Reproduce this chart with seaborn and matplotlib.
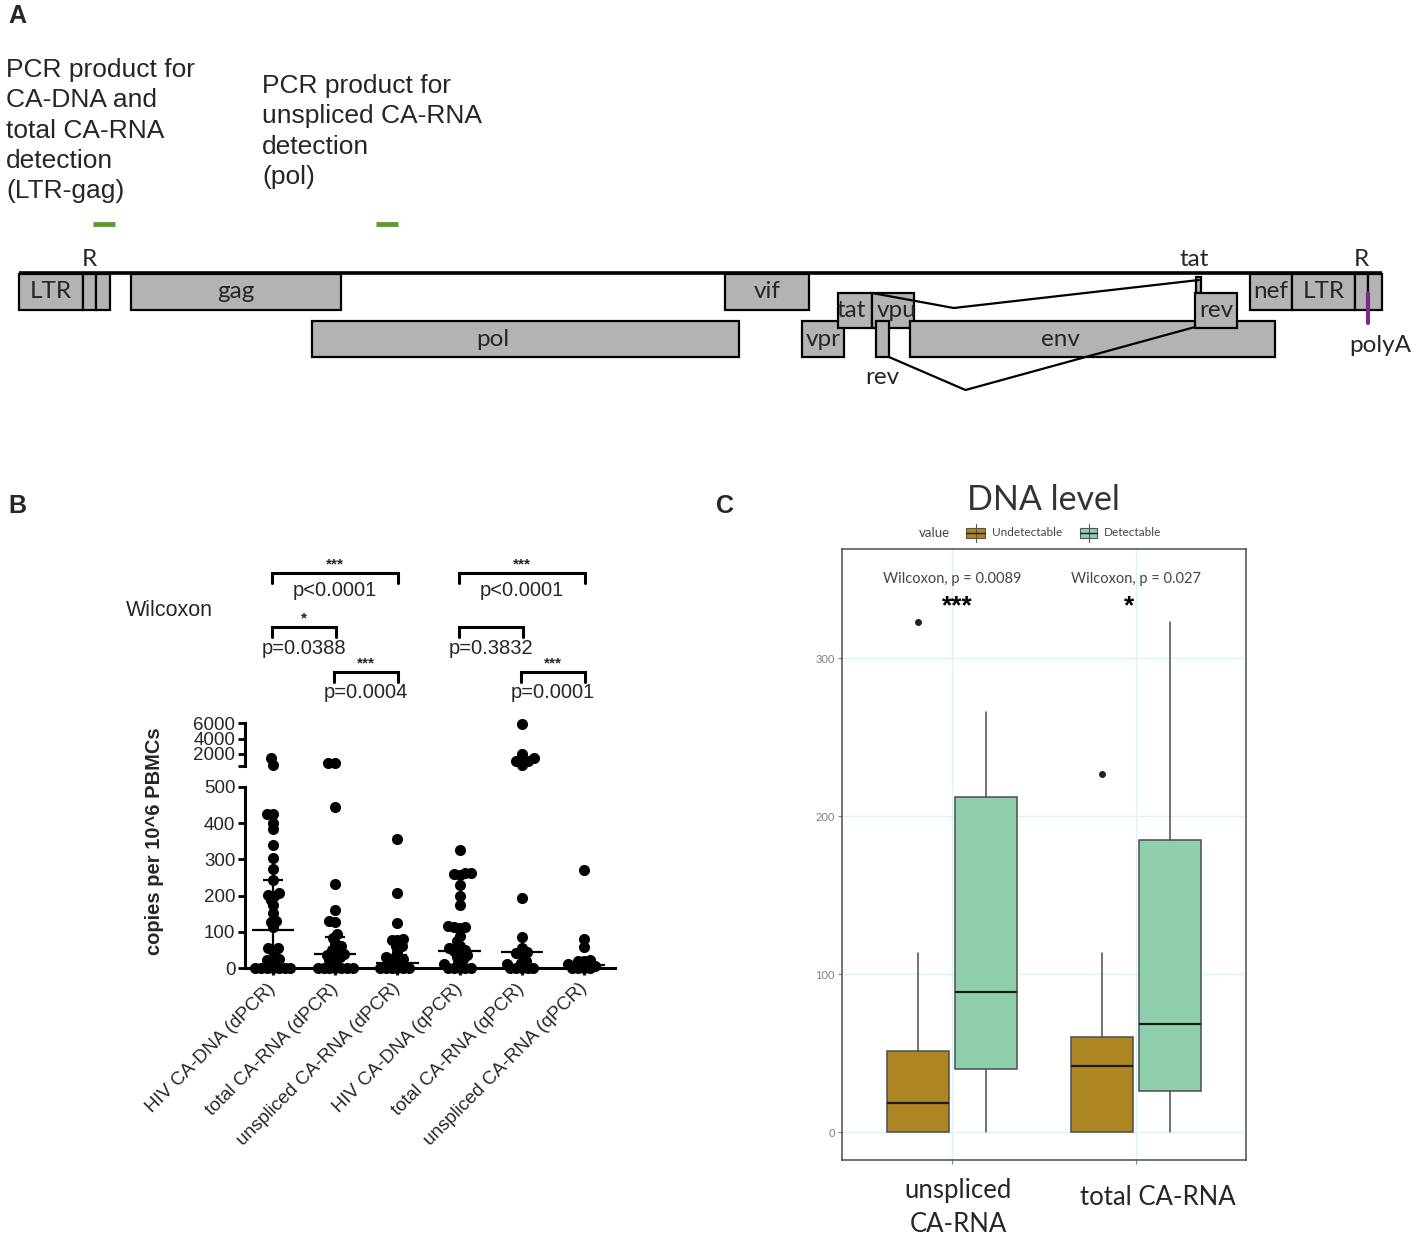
import numpy as np
import pandas as pd
import matplotlib
matplotlib.use('Agg')
import matplotlib.pyplot as plt
from matplotlib.patches import Rectangle
from matplotlib.transforms import ScaledTranslation
import seaborn as sns
import warnings
warnings.filterwarnings('ignore')

W, H = 1417, 1239

# ================= A: genome map (nt positions) =================
seg_name = ['U3', 'R', 'U5', 'gag', 'pol', 'vif', 'vpr', 'tat', 'vpu', 'rev', 'env',
            'tat', 'rev', 'nef', 'U3', 'R', 'U5']
seg_text = ['LTR', '', '', 'gag', 'pol', 'vif', 'vpr', 'tat', 'vpu', '', 'env',
            '', 'rev', 'nef', 'LTR', '', '']
seg_frame = [1, 1, 1, 1, 3, 1, 3, 2, 2, 3, 3, 0, 2, 1, 1, 1, 1]
seg_start = [0, 457, 549, 799, 2091, 5038, 5587, 5844, 6087, 6116, 6358,
             8399, 8392, 8784, 9084, 9534, 9626]
seg_end = [457, 549, 649, 2298, 5138, 5637, 5887, 6087, 6387, 6208, 8963,
           8435, 8692, 9084, 9534, 9626, 9726]
splice_donor = [6087, 6208]
splice_acceptor = [8420, 8392]
primer_start = [528, 2548]
primer_end = [685, 2705]
polya_site = 9626
genome_len = 9726
pcr_labels = ['PCR product for\nCA-DNA and\ntotal CA-RNA\ndetection\n(LTR-gag)',
              'PCR product for\nunspliced CA-RNA\ndetection\n(pol)']

# ================= B: copies per 10^6 PBMCs =================
cats_b = ['HIV CA-DNA (dPCR)', 'total CA-RNA (dPCR)', 'unspliced CA-RNA (dPCR)',
          'HIV CA-DNA (qPCR)', 'total CA-RNA (qPCR)', 'unspliced CA-RNA (qPCR)']
dna_dpcr = [1440, 565, 425, 425, 400, 384, 340, 305, 273, 243, 206, 201, 200, 187, 173,
            151, 130, 126, 112, 56, 56, 47, 25, 23, 20, 0, 0, 0, 0, 0, 0, 0]
total_dpcr = [870, 870, 445, 233, 161, 130, 128, 95, 84, 70, 60, 49, 47, 40, 37, 35, 30,
              23, 20, 0, 0, 0, 0, 0, 0, 0]
unspl_dpcr = [355, 207, 123, 79, 78, 78, 62, 60, 45, 30, 25, 25, 20, 0, 0, 0, 0, 0, 0]
dna_qpcr = [325, 262, 262, 260, 258, 229, 198, 173, 115, 113, 112, 110, 88, 75, 62, 55,
            50, 48, 45, 35, 30, 25, 15, 10, 0, 0, 0, 0, 0]
total_qpcr = [5900, 2050, 1500, 1100, 1050, 550, 193, 86, 56, 45, 42, 40, 20, 15, 12,
              0, 0, 0, 0, 0]
unspl_qpcr = [272, 81, 58, 22, 20, 18, 10, 5, 0, 0, 0, 0]
med_b = [106, 40, 15, 48, 45, 8]
q1_b = [0, 0, 0, 0, 0, 0]
q3_b = [243, 85, 35, 112, 48, 20]
pairs_b = [(0, 2), (0, 1), (1, 2), (3, 5), (3, 4), (4, 5)]
level_b = [0, 1, 2, 0, 1, 2]
ptext_b = ['p<0.0001', 'p=0.0388', 'p=0.0004', 'p<0.0001', 'p=0.3832', 'p=0.0001']
stars_b = ['***', '*', '***', '***', '', '***']

# ================= C: DNA level boxplots =================
cats_c = ['unspliced\nCA-RNA', 'total CA-RNA']
groups_c = ['Undetectable', 'Detectable']
box_cat = [0, 0, 1, 1]
box_grp = ['Undetectable', 'Detectable', 'Undetectable', 'Detectable']
box_q1 = [0, 39.7, 0, 25.7]
box_med = [18.2, 88.5, 41.8, 68.4]
box_q3 = [51, 212, 60, 184.6]
box_lo = [0, 0, 0, 0]
box_hi = [113, 265.7, 113, 323]
box_fliers = [[323], [], [226.4], []]
wilc_c = ['Wilcoxon, p = 0.0089', 'Wilcoxon, p = 0.027']
stars_c = ['***', '*']

COL_UND = '#ad8523'
COL_DET = '#8fcfab'

sns.set_style('white')
plt.rcParams['font.family'] = ['Liberation Sans', 'DejaVu Sans']

fig = plt.figure(figsize=(W / 100, H / 100), dpi=100)
fig.patch.set_facecolor('white')


def rect(l, t, r, b):
    return [l / W, 1 - b / H, (r - l) / W, (b - t) / H]


# -------------------- A --------------------
axA = fig.add_axes(rect(0, 0, W, 420))
axA.set_xlim(-19 * 7.136, (W - 19) * 7.136)
axA.set_ylim(420, 0)
axA.axis('off')

frame_y = {0: (277, 16), 1: (274, 36), 2: (293, 35), 3: (321, 36)}
label_shift = {'pol': -230, 'env': -230, 'tat': -25, 'vpu': 25}
tops = [frame_y[f][0] for f in seg_frame]
hts = [frame_y[f][1] for f in seg_frame]
axA.plot([0, genome_len], [273, 273], color='black', lw=2.6, solid_capstyle='butt', zorder=1)
axA.bar(seg_start, hts, width=np.subtract(seg_end, seg_start), bottom=tops, align='edge',
        color='#b3b3b3', edgecolor='black', linewidth=1.6, zorder=2)
for s, e, t, top, h in zip(seg_start, seg_end, seg_text, tops, hts):
    if t:
        axA.text((s + e) / 2 + label_shift.get(t, 0), top + h / 2, t, ha='center', va='center',
                 fontsize=17.5, family='Lato', zorder=3)

apex_y = [308, 390]
don_y = [293, 357]
acc_y = [280, 327]
for d, a, yd, yp, ya in zip(splice_donor, splice_acceptor, don_y, apex_y, acc_y):
    axA.plot([d, d + 0.25 * (a - d), a], [yd, yp, ya], color='black', lw=1.6, zorder=4)

for s, e in zip(primer_start, primer_end):
    axA.plot([s, e], [224, 224], color='#5b9b2e', lw=3.5, solid_capstyle='butt')
axA.plot([polya_site, polya_site], [293, 323], color='#7b2a8a', lw=3)

axA.text((seg_start[1] + seg_end[1]) / 2, 259, 'R', ha='center', va='center', fontsize=17.5, family='Lato')
axA.text((seg_start[15] + seg_end[15]) / 2, 259, 'R', ha='center', va='center', fontsize=17.5, family='Lato')
axA.text((seg_start[11] + seg_end[11]) / 2 - 30, 259, 'tat', ha='center', va='center', fontsize=17.5, family='Lato')
axA.text((seg_start[9] + seg_end[9]) / 2, 378, 'rev', ha='center', va='center', fontsize=17.5, family='Lato')
axA.text(polya_site + 90, 345, 'polyA', ha='center', va='center', fontsize=17.5, family='Lato')

# -------------------- B --------------------
series_b = [dna_dpcr, total_dpcr, unspl_dpcr, dna_qpcr, total_qpcr, unspl_qpcr]
df_b = pd.DataFrame({'assay': np.repeat(cats_b, [len(v) for v in series_b]),
                     'copies': np.concatenate(series_b)})
df_lo = df_b[df_b['copies'] < 500]
df_hi = df_b[df_b['copies'] >= 500]

ax_hi = fig.add_axes(rect(245, 712, 615, 772))
ax_lo = fig.add_axes(rect(245, 780, 615, 975))

# swarm is laid out with a smaller dot, then drawn with the bigger one (overlap like GraphPad)
sns.swarmplot(data=df_lo, x='assay', y='copies', order=cats_b, color='black', size=4.0, ax=ax_lo)
sns.swarmplot(data=df_hi, x='assay', y='copies', order=cats_b, color='black', size=5.0, ax=ax_hi)
for a in (ax_lo, ax_hi):
    a.set_xlim(-0.45, 5.498)
    a.set_xlabel('')
    a.set_ylabel('')
    a.patch.set_alpha(0)
    for c in a.collections:
        c.set_clip_on(False)

xb = np.arange(len(cats_b))
med = np.array(med_b)
ax_lo.errorbar(xb, med, yerr=[med - np.array(q1_b), np.array(q3_b) - med], fmt='none',
               ecolor='black', elinewidth=1.6, capsize=7, capthick=1.6, clip_on=False)
ax_lo.errorbar(xb, med, xerr=0.34, fmt='none', ecolor='black', elinewidth=1.6, capsize=0, clip_on=False)

ax_lo.set_ylim(-19.3, 519.3)
ax_lo.set_yticks([0, 100, 200, 300, 400, 500])
sns.despine(ax=ax_lo)
ax_lo.spines['left'].set_bounds(0, 500)
ax_lo.spines['bottom'].set_position(('data', 0))
for sp in ('left', 'bottom'):
    ax_lo.spines[sp].set_linewidth(2.2)
    ax_lo.spines[sp].set_color('black')
ax_lo.tick_params(axis='both', direction='out', length=5, width=2, color='black',
                  labelsize=13.5, pad=2, bottom=True, left=True)
ax_lo.tick_params(axis='x', pad=8)
ax_lo.set_xticks(xb)
ax_lo.set_xticklabels(cats_b, rotation=45, ha='right', va='center', rotation_mode='anchor', fontsize=13.5)

ax_hi.set_ylim(-347, 7476)
ax_hi.set_yticks([500, 2000, 4000, 6000])
ax_hi.set_yticklabels(['', '2000', '4000', '6000'])
sns.despine(ax=ax_hi, bottom=True)
ax_hi.spines['left'].set_bounds(500, 6000)
ax_hi.spines['left'].set_linewidth(2.2)
ax_hi.spines['left'].set_color('black')
ax_hi.tick_params(axis='y', direction='out', length=5, width=2, color='black',
                  labelsize=13.5, pad=2, left=True)
ax_hi.set_xticks([])

# -------------------- C --------------------
axC = fig.add_axes(rect(842, 549, 1246, 1160))
stats = []
for q1, m, q3, lo, hi, fl in zip(box_q1, box_med, box_q3, box_lo, box_hi, box_fliers):
    stats.append(dict(q1=q1, med=m, q3=q3, whislo=lo, whishi=hi, fliers=fl))
dodge = {'Undetectable': -0.185, 'Detectable': 0.185}
pos = [c + dodge[g] for c, g in zip(box_cat, box_grp)]
pal = {'Undetectable': COL_UND, 'Detectable': COL_DET}
bp = axC.bxp(stats, positions=pos, widths=0.339, patch_artist=True, showcaps=False,
             boxprops=dict(edgecolor='#4d4d4d', linewidth=1.1),
             medianprops=dict(color='#1a1a1a', linewidth=1.6),
             whiskerprops=dict(color='#4d4d4d', linewidth=1.1),
             flierprops=dict(marker='o', markersize=4, markerfacecolor='#222222',
                             markeredgecolor='#222222'))
for patch, g in zip(bp['boxes'], box_grp):
    patch.set_facecolor(pal[g])

axC.set_xlim(-0.598, 1.598)
axC.set_ylim(-17.7, 369)
axC.set_yticks([0, 100, 200, 300])
axC.set_xticks([0, 1])
axC.set_xticklabels(cats_c)
axC.grid(True, color='#d4f6fa', lw=1.0)
axC.set_axisbelow(True)
for sp in axC.spines.values():
    sp.set_visible(True)
    sp.set_color('#4d4d4d')
    sp.set_linewidth(1.1)
axC.tick_params(axis='y', labelsize=8, labelcolor='#808080', color='#808080', length=3, width=0.8,
                pad=2, left=True)
axC.tick_params(axis='x', labelsize=18.5, color='#808080', length=3, width=0.8, pad=10, bottom=True)
for lbl in axC.get_yticklabels():
    lbl.set_fontfamily('Lato')
for lbl, (dx, dy) in zip(axC.get_xticklabels(), [(6, 0), (22, -7)]):
    lbl.set_fontfamily('Lato')
    lbl.set_linespacing(1.45)
    lbl.set_transform(lbl.get_transform() + ScaledTranslation(dx / 100, dy / 100, fig.dpi_scale_trans))
for i, (t, s) in enumerate(zip(wilc_c, stars_c)):
    axC.text(i, 350, t, ha='center', va='center', fontsize=10.5, color='#444444', family='Lato')
    axC.text(i + (0.03 if i == 0 else -0.04), 333, s, ha='center', va='center', fontsize=19,
             fontweight='bold', color='black')

# -------------------- overlay (text, brackets, legend) --------------------
ov = fig.add_axes([0, 0, 1, 1])
ov.set_xlim(0, W)
ov.set_ylim(H, 0)
ov.axis('off')
ov.patch.set_alpha(0)

ov.text(8, 16, 'A', fontsize=18, fontweight='bold', ha='left', va='center')
ov.text(8, 506, 'B', fontsize=18, fontweight='bold', ha='left', va='center')
ov.text(716, 506, 'C', fontsize=18, fontweight='bold', ha='left', va='center')

ov.text(6, 58, pcr_labels[0], fontsize=19, ha='left', va='top', linespacing=1.33)
ov.text(262, 74, pcr_labels[1], fontsize=19, ha='left', va='top', linespacing=1.33)

ov.text(126, 611, 'Wilcoxon', fontsize=15.5, ha='left', va='center')
ov.text(155, 841, 'copies per 10^6 PBMCs', fontsize=14.5, fontweight='bold',
        rotation=90, ha='center', va='center')

cat_x = [ax_lo.transData.transform((i, 0))[0] for i in range(len(cats_b))]
lvl_y = [573, 627, 672]
ptxt_dy = [17, 22, 20]
for (a, b), lv, pt, st in zip(pairs_b, level_b, ptext_b, stars_b):
    x1, x2 = cat_x[a] - 1, cat_x[b] + 1
    y = lvl_y[lv]
    ov.plot([x1, x1, x2, x2], [y + 10, y, y, y + 10], color='black', lw=2.2,
            solid_joinstyle='miter')
    ov.text((x1 + x2) / 2, y + ptxt_dy[lv], pt, fontsize=14.5, ha='center', va='center')
    if st:
        ov.text((x1 + x2) / 2, y - 9, st, fontsize=11, fontweight='bold', ha='center', va='center')

ov.text(1043, 500, 'DNA level', fontsize=24.5, family='Lato', color='#333333', ha='center', va='center')
ov.text(919, 533, 'value', fontsize=9.5, family='Lato', color='#444444', ha='left', va='center')
for (x0, x1), g, tx in zip([(966, 985), (1080, 1097)], groups_c, [992, 1104]):
    xm = (x0 + x1) / 2
    ov.plot([xm, xm], [524, 542], color='#555555', lw=0.8)
    ov.add_patch(Rectangle((x0, 528), x1 - x0, 10, facecolor=pal[g], edgecolor='#555555', lw=0.8))
    ov.plot([x0, x1], [533, 533], color='#222222', lw=1)
    ov.text(tx, 533, g, fontsize=8.5, family='Lato', color='#444444', ha='left', va='center')

# lay out the swarms once, then freeze them and enlarge the dots
fig.canvas.draw()
for a in (ax_lo, ax_hi):
    for c in a.collections:
        if 'draw' in c.__dict__:
            del c.draw
            c.set_sizes([8.0 ** 2])

fig.savefig('out.png', dpi=100, facecolor='white')
